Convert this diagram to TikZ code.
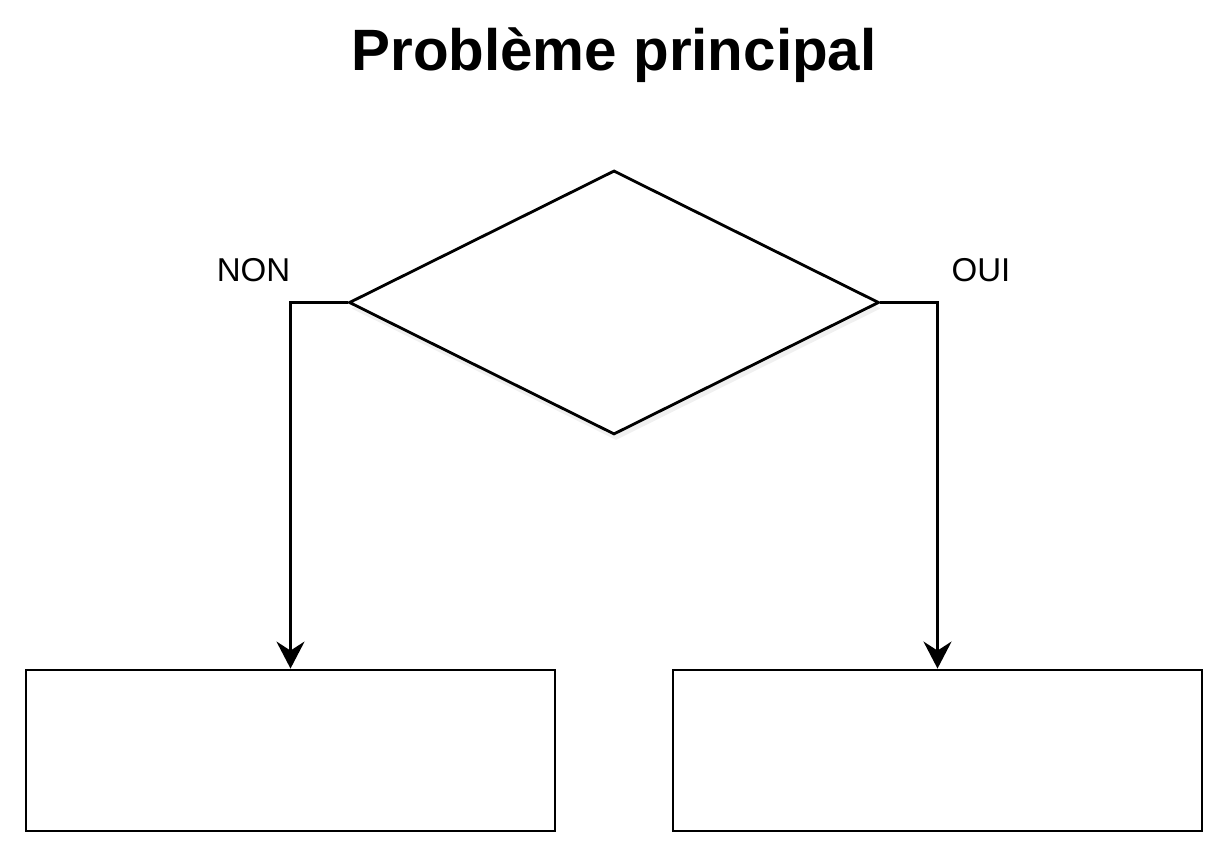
\documentclass[tikz,border=0pt]{standalone}
\usepackage{fontspec}
\setmainfont{Liberation Sans}
\usetikzlibrary{arrows.meta, shapes.geometric, shadows}

\begin{document}
\begin{tikzpicture}[line width=0.8pt,
    choice/.style={diamond, draw, fill=white, inner sep=0pt, minimum width=5.30cm, minimum height=2.64cm,
        drop shadow={opacity=0.15, fill=black!40, shadow xshift=0.02cm, shadow yshift=-0.06cm}},
    answer/.style={draw, minimum width=5.29cm, minimum height=1.61cm},
    link/.style={-{Stealth[length=2.7mm, width=2.8mm, inset=0.9mm]}}]
    \useasboundingbox (0, 0) rectangle (12.28, 8.58);

    \node[font=\bfseries\fontsize{16.6}{19}\selectfont, anchor=base] (title) at (6.14, 7.87) {Problème principal};
    \node[choice] (q) at (6.14, 5.555) {};
    \node[answer] (no) at (2.905, 1.075) {};
    \node[answer] (yes) at (9.375, 1.075) {};
    \node[font=\fontsize{9.4}{11}\selectfont, anchor=base] (nolbl) at (2.535, 5.76) {NON};
    \node[font=\fontsize{9.4}{11}\selectfont, anchor=base] (yeslbl) at (9.81, 5.76) {OUI};

    \draw[link] (q.west) -| (no.north);
    \draw[link] (q.east) -| (yes.north);
\end{tikzpicture}
\end{document}
